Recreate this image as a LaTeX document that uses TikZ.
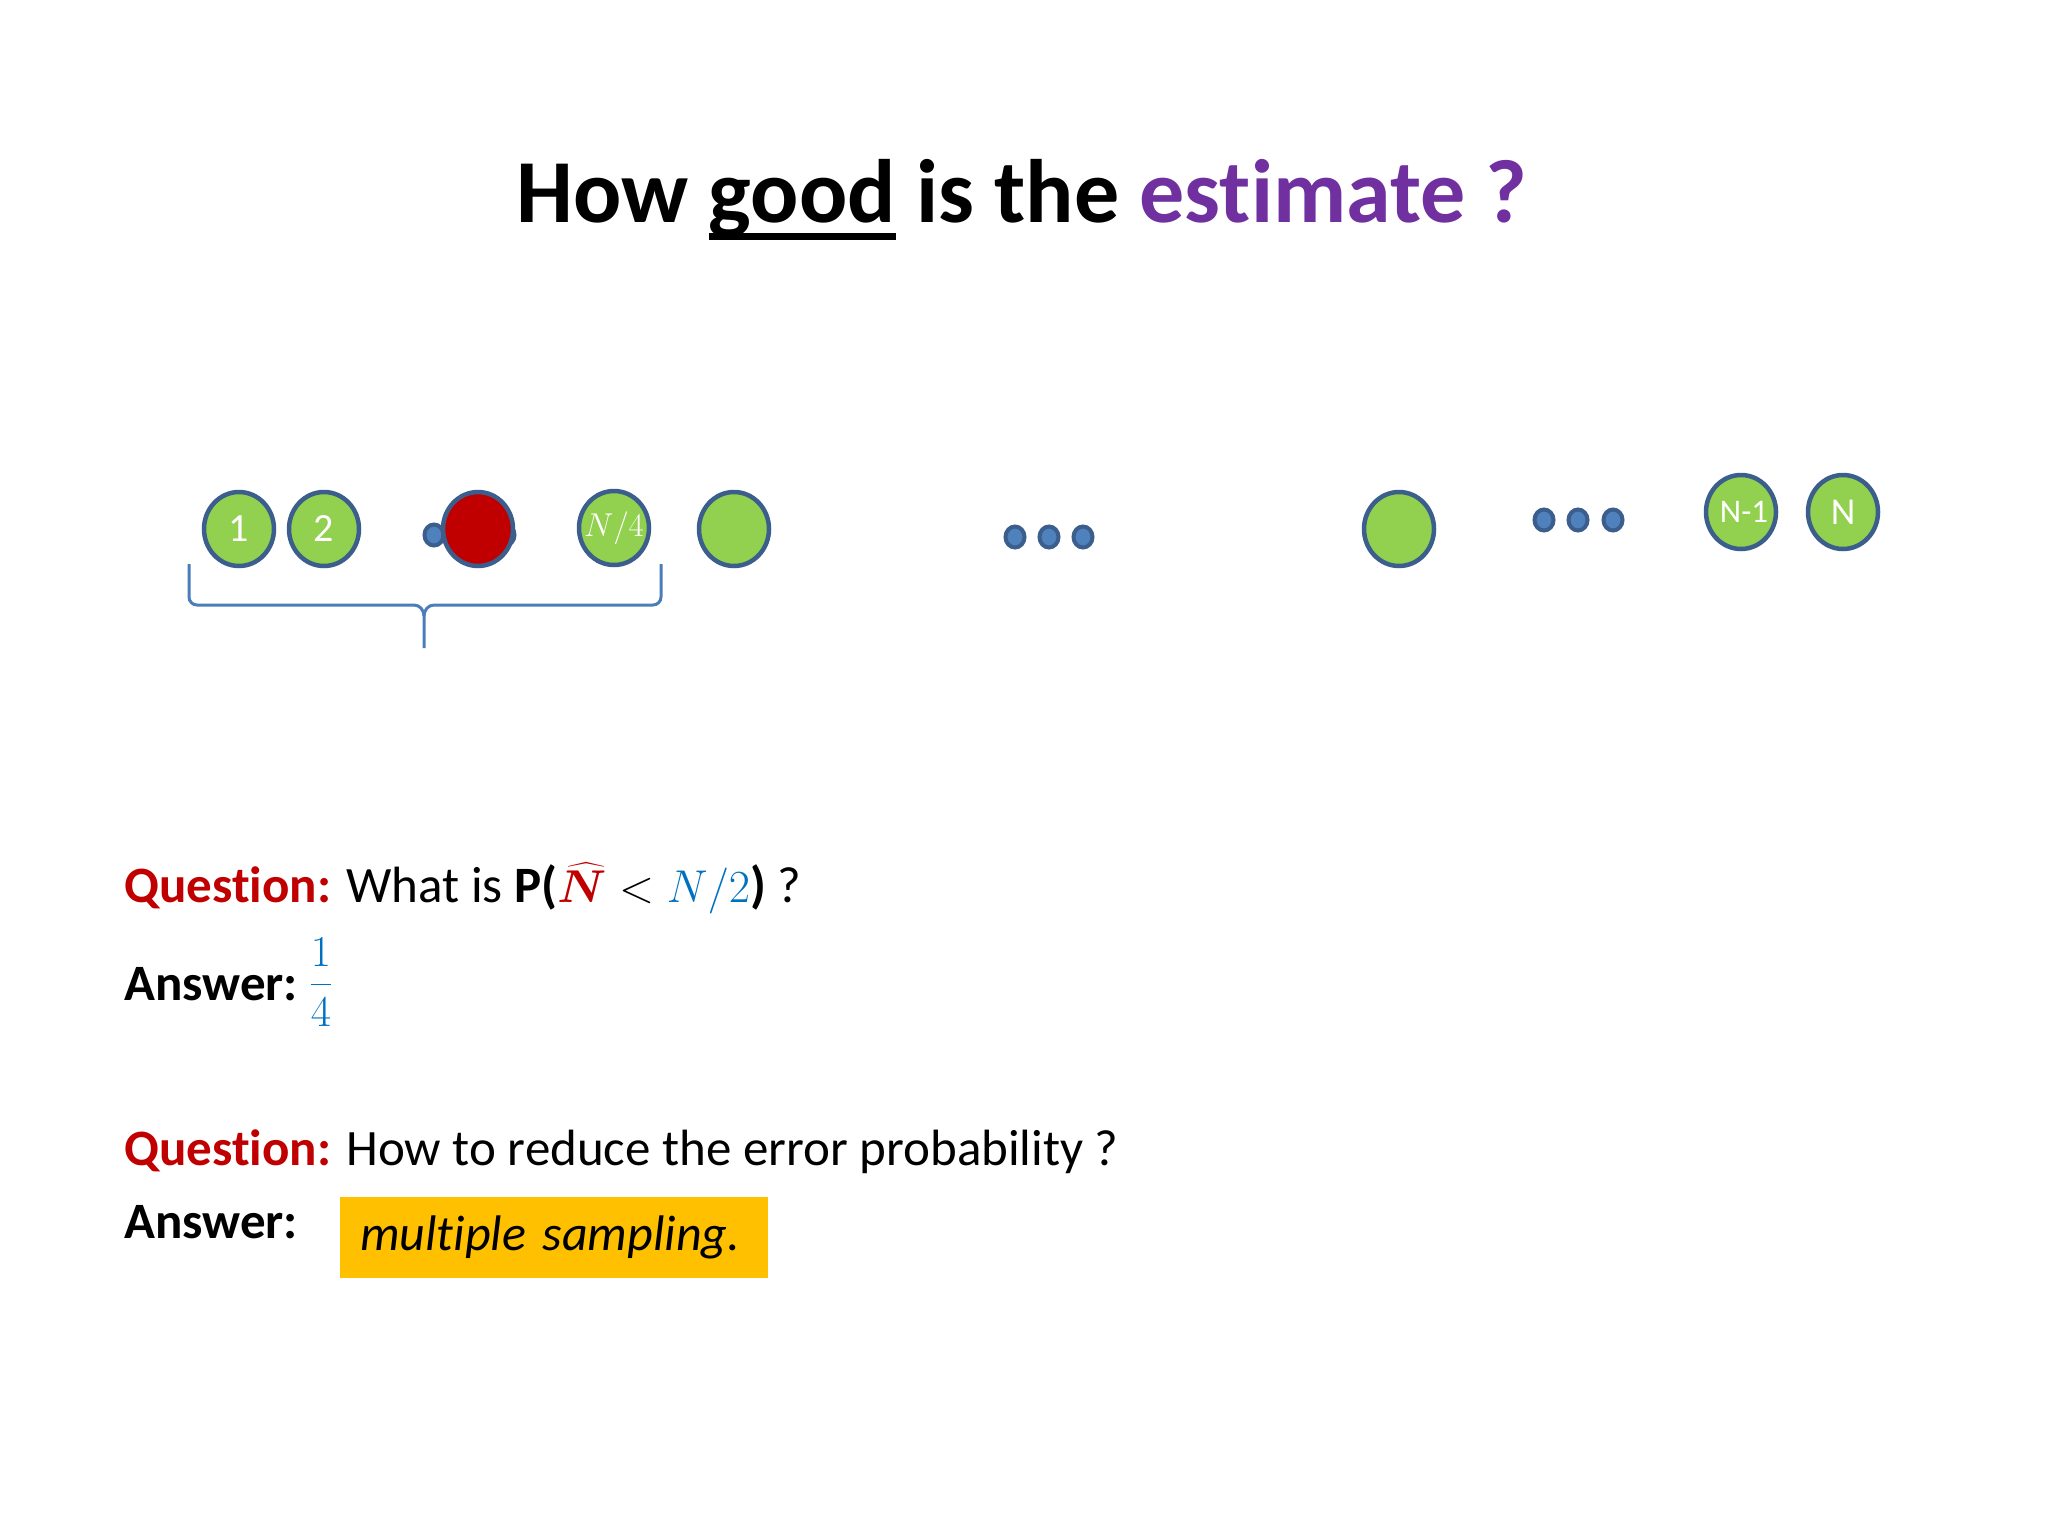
\RequirePackage{fix-cm}
\documentclass[tikz,border=0pt]{standalone}
\usepackage{amsmath}
\usepackage{bm}
\usepackage{fontspec}
\setmainfont{Carlito}[Ligatures={NoCommon}]
\usetikzlibrary{shapes.geometric}
\definecolor{ballgreen}{HTML}{92D050}
\definecolor{ballstroke}{HTML}{3B5E8C}
\definecolor{dotfill}{HTML}{4F81BD}
\definecolor{ballred}{HTML}{C00000}
\definecolor{qred}{HTML}{C00000}
\definecolor{mblue}{HTML}{0070C0}
\definecolor{bracecol}{HTML}{4A7EBB}
\definecolor{titlepurple}{HTML}{7030A0}
\definecolor{ansyellow}{HTML}{FFC000}
\newcommand\myul[1]{\setbox0\hbox{#1}\rlap{\rule[-18pt]{\wd0}{7pt}}\box0\relax}
\tikzset{
  ball/.style={ellipse, draw=ballstroke, line width=4.5pt, fill=ballgreen,
    minimum width=70pt, minimum height=74pt, inner sep=0pt, text=white,
    font=\fontsize{40}{40}\selectfont},
  redball/.style={ball, fill=ballred},
  balllabel/.style={inner sep=0pt, text=white},
  smalldot/.style={ellipse, draw=ballstroke, line width=4pt, fill=dotfill,
    minimum width=19pt, minimum height=21pt, inner sep=0pt},
  txt/.style={anchor=base west, inner sep=0pt, font=\fontsize{51}{62}\selectfont},
  brace/.style={draw=bracecol, line width=3pt}
}
\begin{document}
\begin{tikzpicture}[x=1pt,y=-1pt]
\useasboundingbox[fill=white] (0,0) rectangle (2048,1536);
% title
\node[anchor=base, inner sep=0pt, font=\bfseries\fontsize{90}{100}\selectfont] (title) at (1022,222)
  {How \myul{good} is the \textcolor{titlepurple}{estimate ?}};
% balls row
\node[ball] (b1) at (239,529) {1};
\node[ball] (b2) at (324,529) {2};
\node[smalldot] (d1) at (434,535) {};
\node[smalldot] (d2) at (473,535) {};
\node[smalldot] (d3) at (505,535) {};
\node[redball] (br) at (478,529) {};
\node[ball] (b4) at (614,528) {};
\node[balllabel, font=\fontsize{33}{33}\selectfont] (l4) at (b4) {$N/4$};
\node[ball] (b5) at (734,529) {};
\node[smalldot] (e1) at (1015,537) {};
\node[smalldot] (e2) at (1049,537) {};
\node[smalldot] (e3) at (1083,537) {};
\node[ball] (b6) at (1399,529) {};
\node[smalldot] (g1) at (1544,520) {};
\node[smalldot] (g2) at (1578,520) {};
\node[smalldot] (g3) at (1613,520) {};
\node[ball] (bn1) at (1741,512) {};
\node[balllabel, font=\fontsize{33}{33}\selectfont] (ln1) at ([xshift=3pt]bn1.center) {N-1};
\node[ball, font=\fontsize{38}{38}\selectfont] (bn) at (1843,512) {N};
% brace
\coordinate (brL) at (189,564);
\coordinate (brR) at (661,564);
\coordinate (brT) at (424,648);
\draw[brace] (brL) -- (189,597) to[out=-90,in=180] (197,605) -- (414,605)
  to[out=0,in=90] (424,616) -- (brT);
\draw[brace] (brR) -- (661,597) to[out=-90,in=0] (653,605) -- (434,605)
  to[out=180,in=90] (424,616);
% questions
\node[txt] (q1) at (124,902) {\textcolor{qred}{\bfseries Question:} What is \textbf{P(}{\fontsize{46}{52}\selectfont$\textcolor{qred}{\bm{\widehat{N}}}<\textcolor{mblue}{N/2}$}\textbf{)} ?};
\node[txt] (a1) at (124,1000) {\bfseries Answer:};
\node[inner sep=0pt, text=mblue, font=\fontsize{44}{50}\selectfont] (f1) at (321,982) {$\displaystyle\frac{1}{4}$};
\node[txt] (q2) at (124,1165) {\textcolor{qred}{\bfseries Question:} How to reduce the error probability ?};
\node[txt] (a2) at (124,1238) {\bfseries Answer:};
\node[fill=ansyellow, anchor=west, minimum height=81pt, text width=388pt, inner xsep=20pt,
  align=left, font=\itshape\fontsize{50}{60}\selectfont] (box) at (340,1237) {multiple sampling.};
\end{tikzpicture}
\end{document}
